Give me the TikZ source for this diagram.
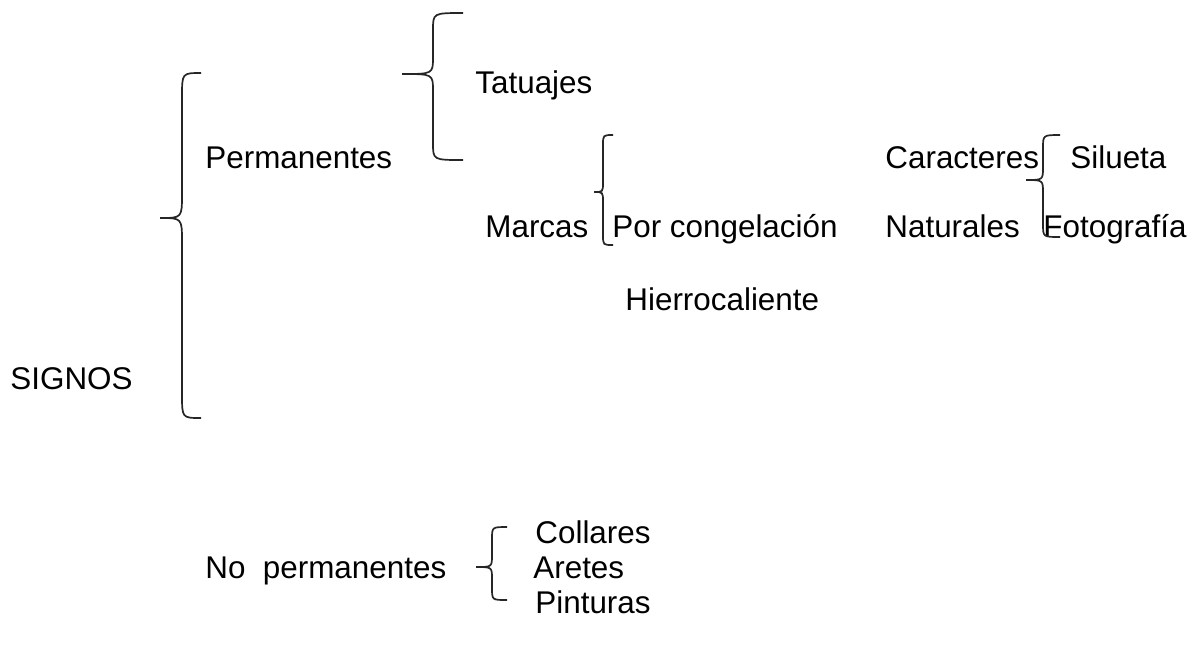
\documentclass[tikz,border=0pt]{standalone}
\usepackage{fontspec}
\setmainfont{Liberation Sans}
\usepackage{tikz}
\tikzset{
    item-text/.style = {anchor=base west, inner sep=0pt, font=\fontsize{15.7}{18}\selectfont},
    brace-line/.style = {draw=black!85, line width=0.85pt},
}
% curly brace: tip x, tip y, stem x, end x, top y, bottom y, radius
\newcommand{\llave}[7]{%
  \draw[brace-line] (#4,#5) .. controls (#3,#5) .. (#3,#5+#7) -- (#3,#2-#7)
    .. controls (#3,#2) .. (#1,#2) .. controls (#3,#2) .. (#3,#2+#7)
    -- (#3,#6-#7) .. controls (#3,#6) .. (#4,#6);}

\begin{document}
\begin{tikzpicture}[x=0.5pt, y=-0.5pt]
\useasboundingbox (0,0) rectangle (1192,645);
\node[item-text] (signos) at (10,389) {SIGNOS};
\node[item-text] (perm) at (205,168) {Permanentes};
\node[item-text] (tatuajes) at (475,93) {Tatuajes};
\node[item-text] (marcas) at (485,237) {Marcas};
\node[item-text] (congel) at (612,237) {Por congelación};
\node[item-text] (hierro) at (625,310) {Hierrocaliente};
\node[item-text] (caract) at (885,168) {Caracteres};
\node[item-text] (natur) at (885,237) {Naturales};
\node[item-text] (silueta) at (1070,168) {Silueta};
\node[item-text] (foto) at (1043,237) {Fotografía};
\node[item-text] (noperm) at (205,578) {No\ \ permanentes};
\node[item-text] (collares) at (535,543) {Collares};
\node[item-text] (aretes) at (533,578) {Aretes};
\node[item-text] (pinturas) at (535,613) {Pinturas};

\llave{160}{218}{182}{201}{73}{418}{24}
\llave{402}{74}{433}{463}{13}{160}{17}
\llave{594}{192}{603}{613}{135}{245}{10}
\llave{1026}{180}{1043}{1060}{135}{237}{13}
\llave{476}{567}{492}{507}{527}{600}{12}
\end{tikzpicture}
\end{document}
